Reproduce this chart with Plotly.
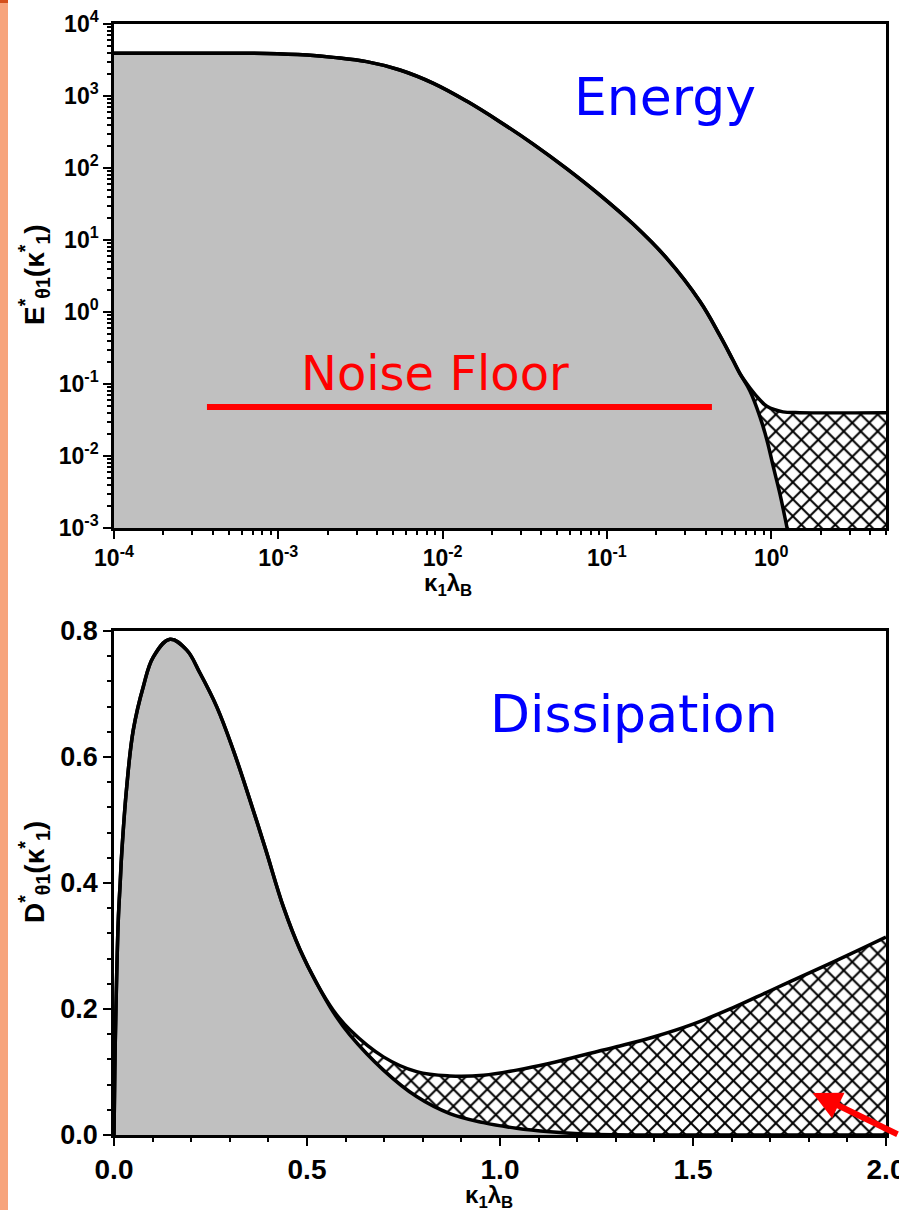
import plotly.graph_objects as go

W, H = 899, 1210
def px(x): return x / W
def py(y): return 1 - y / H

# ---------------- data ----------------
# Energy spectrum (top panel), log-log
k_E_common = [1e-4, 3e-4, 8.5e-4, 1.5e-3, 2.16e-3, 3.45e-3, 5.5e-3, 8.8e-3, 0.014, 0.0223,
              0.0356, 0.0569, 0.0908, 0.145, 0.231, 0.369, 0.488, 0.585, 0.645]
E_common = [3920, 3920, 3900, 3700, 3440, 3000, 2300, 1500, 850, 440,
            215, 98, 42, 16.5, 5.6, 1.4, 0.47, 0.215, 0.14]
k_E_total_tail = [0.743, 0.855, 0.942, 1.18, 1.49, 5.0]
E_total_tail = [0.088, 0.060, 0.049, 0.041, 0.040, 0.040]
k_E_gray_tail = [0.743, 0.855, 0.942, 1.03, 1.13, 1.25, 1.33, 5.0]
E_gray_tail = [0.080, 0.035, 0.0167, 0.0071, 0.0030, 0.001, 0.0005, 0.0005]

noise_k = [3.68e-4, 0.436]
noise_E = [0.048, 0.048]

E_ticks = [1e-3, 1e-2, 1e-1, 1e0, 1e1, 1e2, 1e3, 1e4]
E_ticktext = ["10<sup>-3</sup>", "10<sup>-2</sup>", "10<sup>-1</sup>", "10<sup>0</sup>",
              "10<sup>1</sup>", "10<sup>2</sup>", "10<sup>3</sup>", "10<sup>4</sup>"]
k_ticks = [1e-4, 1e-3, 1e-2, 1e-1, 1e0]
k_ticktext = ["10<sup>-4</sup>", "10<sup>-3</sup>", "10<sup>-2</sup>", "10<sup>-1</sup>", "10<sup>0</sup>"]

# Dissipation spectrum (bottom panel), linear
k_D_common = [0, 0.002, 0.005, 0.011, 0.016, 0.020, 0.033, 0.050, 0.076, 0.102, 0.145, 0.188,
              0.223, 0.266, 0.309, 0.352, 0.392, 0.44, 0.482, 0.525]
D_common = [0, 0.10, 0.20, 0.34, 0.40, 0.447, 0.553, 0.643, 0.712, 0.759, 0.787, 0.770,
            0.733, 0.680, 0.611, 0.532, 0.455, 0.36, 0.294, 0.241]
k_D_total_tail = [0.568, 0.611, 0.698, 0.784, 0.870, 0.957, 1.043, 1.13, 1.216, 1.302,
                  1.4, 1.5, 1.6, 1.7, 1.8, 1.9, 2.0]
D_total_tail = [0.198, 0.167, 0.124, 0.1005, 0.0937, 0.0948, 0.103, 0.114, 0.127, 0.140,
                0.156, 0.176, 0.201, 0.229, 0.257, 0.285, 0.314]
k_D_gray_tail = [0.568, 0.611, 0.698, 0.784, 0.870, 0.957, 1.043, 1.13, 1.216, 1.30, 1.40, 2.0]
D_gray_tail = [0.195, 0.159, 0.103, 0.061, 0.034, 0.0196, 0.0106, 0.005, 0.0016, 0.0003, 0, 0]

E_range_log = [-3, 4]
k_range_log = [-4, 0.699]

# ---------------- figure ----------------
fig = go.Figure()
GRAY = "#C0C0C0"
LW = 3.5
SMOOTH = 1.1
pattern = dict(shape="x", size=12, solidity=0.3, fgcolor="black", bgcolor="white", fillmode="replace")

ymin_top = 10 ** E_range_log[0]
kmin, kmax = 10 ** k_range_log[0], 10 ** k_range_log[1]

# baseline for gray fill on log axis
fig.add_trace(go.Scatter(x=[kmin, kmax], y=[ymin_top, ymin_top], mode="lines",
                         line=dict(width=0, color="rgba(0,0,0,0)"), hoverinfo="skip",
                         xaxis="x", yaxis="y", showlegend=False))
fig.add_trace(go.Scatter(x=k_E_common + k_E_gray_tail, y=E_common + E_gray_tail, mode="lines",
                         line=dict(color="black", width=LW, shape="spline", smoothing=SMOOTH), fill="tonexty",
                         fillcolor=GRAY, xaxis="x", yaxis="y", showlegend=False))
fig.add_trace(go.Scatter(x=k_E_common + k_E_total_tail, y=E_common + E_total_tail, mode="lines",
                         line=dict(color="black", width=LW, shape="spline", smoothing=SMOOTH), fill="tonexty",
                         fillpattern=pattern, fillcolor="white",
                         xaxis="x", yaxis="y", showlegend=False))
fig.add_trace(go.Scatter(x=noise_k, y=noise_E, mode="lines", line=dict(color="#FF0000", width=6),
                         xaxis="x", yaxis="y", showlegend=False))

fig.add_trace(go.Scatter(x=k_D_common + k_D_gray_tail, y=D_common + D_gray_tail, mode="lines",
                         line=dict(color="black", width=LW, shape="spline", smoothing=SMOOTH), fill="tozeroy",
                         fillcolor=GRAY, xaxis="x2", yaxis="y2", showlegend=False))
fig.add_trace(go.Scatter(x=k_D_common + k_D_total_tail, y=D_common + D_total_tail, mode="lines",
                         line=dict(color="black", width=LW, shape="spline", smoothing=SMOOTH), fill="tonexty",
                         fillpattern=pattern, fillcolor="white",
                         xaxis="x2", yaxis="y2", showlegend=False))

def tf(size):
    return dict(family="Liberation Sans, Arial", size=size, color="black", weight="bold")

common_ax = dict(showline=True, linecolor="black", linewidth=2.5, mirror=True, ticks="outside",
                 ticklen=8, tickwidth=2, tickcolor="black", showgrid=False, zeroline=False,
                 automargin=False, ticklabeloverflow="allow")
minor_log = dict(ticks="outside", ticklen=4, tickwidth=2, tickcolor="black", dtick="D1", showgrid=False)

fig.update_layout(
    width=W, height=H, margin=dict(l=0, r=0, t=0, b=0, pad=0),
    paper_bgcolor="white", plot_bgcolor="white", showlegend=False,
    xaxis=dict(type="log", range=k_range_log, domain=[px(114), px(886)], anchor="y",
               tickmode="array", tickvals=k_ticks, ticktext=k_ticktext, tickfont=tf(23),
               minor=minor_log, **common_ax),
    yaxis=dict(type="log", range=E_range_log, domain=[py(528), py(24)], anchor="x",
               tickmode="array", tickvals=E_ticks, ticktext=E_ticktext, tickfont=tf(23),
               minor=minor_log, **common_ax),
    xaxis2=dict(range=[0, 2], domain=[px(114), px(886)], anchor="y2", dtick=0.5, tickformat=".1f",
                tickfont=tf(28),
                minor=dict(ticks="outside", ticklen=4, tickwidth=2, tickcolor="black", dtick=0.1, showgrid=False),
                **common_ax),
    yaxis2=dict(range=[0, 0.8], domain=[py(1135), py(631)], anchor="x2", dtick=0.2, tickformat=".1f",
                tickfont=tf(27),
                minor=dict(ticks="outside", ticklen=4, tickwidth=2, tickcolor="black", dtick=0.04, showgrid=False),
                **common_ax),
)

def note(x, y, text, font, **kw):
    return dict(x=px(x), y=py(y), xref="paper", yref="paper", text=text, showarrow=False,
                xanchor="center", yanchor="middle", font=font, **kw)

ann = [
    note(665, 97, "Energy", dict(family="DejaVu Sans", size=52, color="#0000FF")),
    note(435, 373, "Noise Floor", dict(family="DejaVu Sans", size=48, color="#FF0000")),
    note(634, 714, "Dissipation", dict(family="DejaVu Sans", size=52, color="#0000FF")),
    note(34, 275, "E<sup>*</sup><sub>θ1</sub>(κ<sup>*</sup><sub>1</sub>)", tf(28), textangle=-90),
    note(34, 872, "D<sup>*</sup><sub>θ1</sub>(κ<sup>*</sup><sub>1</sub>)", tf(28), textangle=-90),
    note(448, 584, "κ<sub>1</sub>λ<sub>B</sub>", tf(24)),
    note(489, 1196, "κ<sub>1</sub>λ<sub>B</sub>", tf(24)),
    dict(x=1.81, y=0.0667, xref="x2", yref="y2", text="", showarrow=True, ax=100, ay=42,
         arrowhead=2, arrowsize=0.95, arrowwidth=6, arrowcolor="#FF0000"),
]
fig.update_layout(annotations=ann)

fig.update_layout(shapes=[
    dict(type="rect", xref="paper", yref="paper", x0=0, x1=px(8), y0=0, y1=1,
         fillcolor="#F7A47C", line=dict(width=0), layer="below"),
    dict(type="rect", xref="paper", yref="paper", x0=0, x1=px(8), y0=py(3), y1=1,
         fillcolor="#D4501C", line=dict(width=0), layer="below"),
])

fig.write_html("out.html")
